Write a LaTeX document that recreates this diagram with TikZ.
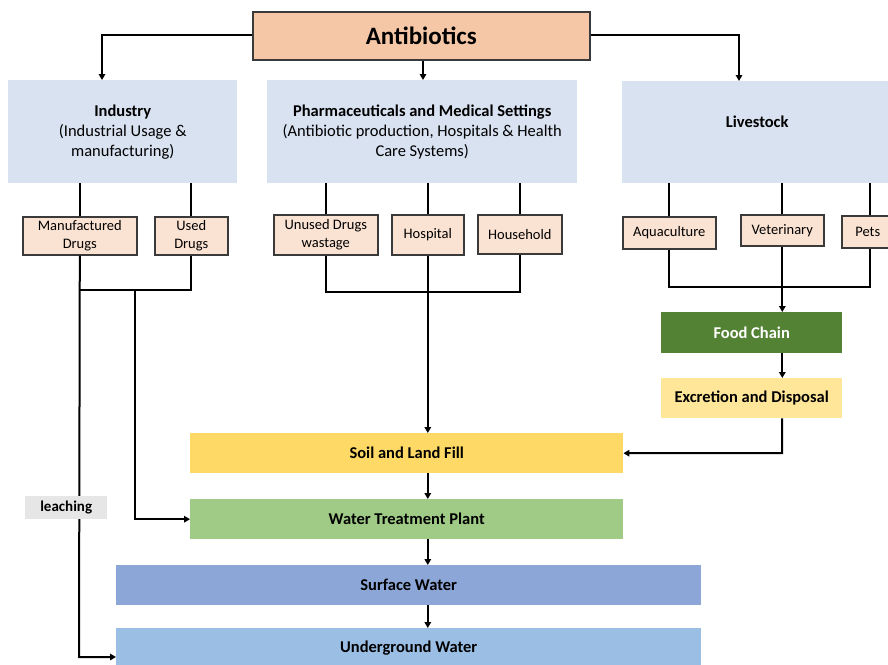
\documentclass[tikz,border=0pt]{standalone}
\usepackage{fontspec}
\setmainfont{Carlito}
\usetikzlibrary{arrows.meta}
\definecolor{peach}{HTML}{F5C7A7}
\definecolor{lightpeach}{HTML}{FBE3D3}
\definecolor{paleblue}{HTML}{D9E2F1}
\definecolor{foodgreen}{HTML}{548235}
\definecolor{paleyellow}{HTML}{FFE699}
\definecolor{gold}{HTML}{FFD966}
\definecolor{lightgreen}{HTML}{9FCB86}
\definecolor{surfblue}{HTML}{8CA6D7}
\definecolor{groundblue}{HTML}{9BBFE4}
\definecolor{leachgray}{HTML}{E7E6E6}
\definecolor{edge}{HTML}{3A3A3A}
\begin{document}
\begin{tikzpicture}[x=1pt,y=-1pt,
  box/.style={anchor=north west,inner sep=0pt,align=center,text=black},
  mainbox/.style={box,fill=paleblue,font=\fontsize{16.5}{20}\selectfont},
  subbox/.style={box,fill=lightpeach,draw=edge,line width=1.6pt,font=\fontsize{14.5}{17.5}\selectfont},
  band/.style={box,font=\bfseries\fontsize{16.5}{20}\selectfont},
  conn/.style={line width=2pt,black},
  arr/.style={conn,-{Triangle[length=6pt,width=6.5pt]}}
]
\useasboundingbox (0,0) rectangle (888,664);

% top
\node[box,fill=peach,draw=edge,line width=1.6pt,minimum width=337pt,minimum height=48pt,
  font=\bfseries\fontsize{25}{30}\selectfont] (anti) at (252,11) {Antibiotics};

\node[mainbox,minimum width=229pt,minimum height=103pt] (ind) at (8,80)
  {\textbf{Industry}\\(Industrial Usage \&\\manufacturing)};
\node[mainbox,minimum width=310pt,minimum height=103pt] (pharm) at (267,80)
  {\textbf{Pharmaceuticals and Medical Settings}\\(Antibiotic production, Hospitals \& Health\\Care Systems)};
\node[mainbox,minimum width=270pt,minimum height=102pt] (live) at (622,81)
  {\textbf{Livestock}\\\mbox{}};

% sub boxes
\node[subbox,minimum width=114pt,minimum height=38pt] (mfd) at (22,216) {Manufactured\\Drugs};
\node[subbox,minimum width=73pt,minimum height=38pt] (used) at (154,216) {Used\\Drugs};
\node[subbox,minimum width=104pt,minimum height=40pt] (unused) at (273,214) {Unused Drugs\\wastage};
\node[subbox,minimum width=72pt,minimum height=40pt] (hosp) at (391,214) {Hospital};
\node[subbox,minimum width=84pt,minimum height=39pt] (house) at (477,214) {Household};
\node[subbox,minimum width=93pt,minimum height=32pt] (aqua) at (622,216) {Aquaculture};
\node[subbox,minimum width=83pt,minimum height=31pt] (vet) at (740,214) {Veterinary};
\node[subbox,minimum width=52pt,minimum height=32pt] (pets) at (841,215) {Pets};

% right column
\node[band,fill=foodgreen,text=white,minimum width=181pt,minimum height=41pt] (food) at (661,312) {Food Chain};
\node[band,fill=paleyellow,minimum width=181pt,minimum height=40pt] (excr) at (661,378) {Excretion and Disposal};

% bands
\node[band,fill=gold,minimum width=433pt,minimum height=40pt] (soil) at (190,433) {Soil and Land Fill};
\node[band,fill=lightgreen,minimum width=433pt,minimum height=40pt] (wtp) at (190,499) {Water Treatment Plant};
\node[band,fill=surfblue,minimum width=585pt,minimum height=40pt] (surf) at (116,565) {Surface Water};
\node[band,fill=groundblue,minimum width=585pt,minimum height=40pt] (ground) at (116,628) {Underground Water};

% top arrows
\coordinate (tl) at (102,35);
\coordinate (tr) at (739,35);
\draw[arr] (anti.west |- tl) -- (tl) -- (tl |- ind.north);
\draw[arr] (anti.south -| 423,0) -- (423,80) coordinate (pt);
\draw[arr] (anti.east |- tr) -- (tr) -- (tr |- live.north);

% industry
\draw[conn] (ind.south -| mfd.north) -- (mfd.north);
\draw[conn] (ind.south -| used.north) -- (used.north);
\coordinate (ij) at (135,290);
\coordinate (lb) at (79,657);
\draw[conn] (used.south) -- (used.south |- ij) -- (mfd.south |- ij);
\draw[arr] (mfd.south) -- (lb) -- (lb -| ground.west);
\draw[arr] (ij) -- (ij |- wtp.west) -- (wtp.west);
\node[box,fill=leachgray,minimum width=82pt,minimum height=23pt,font=\bfseries\fontsize{15}{18}\selectfont]
  (leach) at (25,496) {leaching};

% pharma
\draw[conn] (pharm.south -| unused.north) -- (unused.north);
\draw[conn] (pharm.south -| hosp.north) -- (hosp.north);
\draw[conn] (pharm.south -| house.north) -- (house.north);
\coordinate (pj) at (428,292);
\draw[conn] (unused.south) -- (unused.south |- pj) -- (house.south |- pj) -- (house.south);
\draw[arr] (hosp.south) -- (hosp.south |- soil.north);

% livestock
\coordinate (px) at (870,0);
\draw[conn] (live.south -| aqua.north) -- (aqua.north);
\draw[conn] (live.south -| vet.north) -- (vet.north);
\draw[conn] (live.south -| px) -- (pets.north -| px);
\coordinate (lj) at (782,287);
\draw[conn] (aqua.south) -- (aqua.south |- lj) -- (px |- lj) -- (pets.south -| px);
\draw[arr] (vet.south) -- (vet.south |- food.north);
\draw[arr] (food.south -| vet.south) -- (excr.north -| vet.south);
\coordinate (ej) at (782,453);
\draw[arr] (excr.south -| ej) -- (ej) -- (soil.east);

% vertical chain
\draw[arr] (soil.south -| hosp.south) -- (wtp.north -| hosp.south);
\draw[arr] (wtp.south -| hosp.south) -- (surf.north -| hosp.south);
\draw[arr] (surf.south -| hosp.south) -- (ground.north -| hosp.south);
\end{tikzpicture}
\end{document}
